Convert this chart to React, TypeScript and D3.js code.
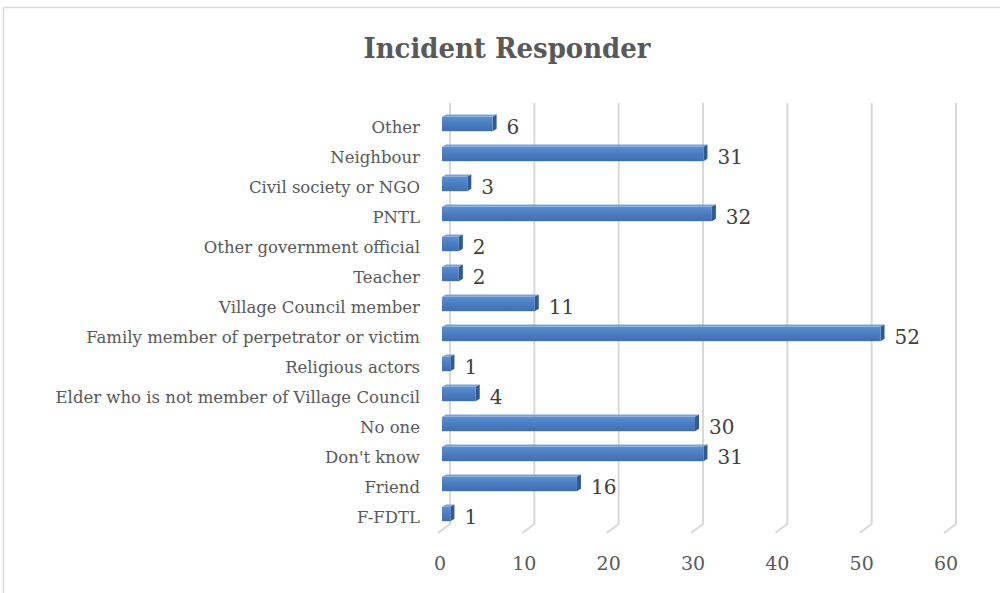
import React from "react";
import * as d3 from "d3";

const categories = [
  "Other",
  "Neighbour",
  "Civil society or NGO",
  "PNTL",
  "Other government official",
  "Teacher",
  "Village Council member",
  "Family member of perpetrator or victim",
  "Religious actors",
  "Elder who is not member of Village Council",
  "No one",
  "Don't know",
  "Friend",
  "F-FDTL",
];
const values = [6, 31, 3, 32, 2, 2, 11, 52, 1, 4, 30, 31, 16, 1];
const ticks = [0, 10, 20, 30, 40, 50, 60];

const W = 1000;
const H = 593;

export default function App() {
  const x = d3.scaleLinear().domain([0, 60]).range([440, 946]);
  const y = d3.scaleBand().domain(categories).range([109, 529]).paddingInner(0.52).paddingOuter(0.26);
  const backDx = 10;
  const backDy = -9;
  const floorY = 533;
  const topY = 103;
  const barDx = 2;
  const depth = 4;
  const font = "'DejaVu Serif', serif";

  return (
    <svg width={W} height={H} style={{ position: "absolute", left: 0, top: 0 }} xmlns="http://www.w3.org/2000/svg">
      <defs>
        <linearGradient id="front" x1="0" y1="0" x2="0" y2="1">
          <stop offset="0" stopColor="#5b8fd0" />
          <stop offset="0.5" stopColor="#4a7cc0" />
          <stop offset="1" stopColor="#3f6fb0" />
        </linearGradient>
      </defs>
      <rect x={0} y={0} width={W} height={H} fill="#ffffff" />
      <rect x={3.5} y={7.5} width={W + 10} height={H + 10} fill="none" stroke="#d9d9d9" strokeWidth={1.5} />
      <text x={507} y={58} textAnchor="middle" fontFamily={font} fontWeight="bold" fontSize={27} fill="#595959" textLength={287} lengthAdjust="spacingAndGlyphs">
        Incident Responder
      </text>
      {ticks.map((t) => (
        <polyline
          key={t}
          points={`${x(t) + backDx},${topY} ${x(t) + backDx},${floorY + backDy} ${x(t) - 2},${floorY}`}
          fill="none"
          stroke="#d9d9d9"
          strokeWidth={2}
        />
      ))}
      {ticks.map((t) => (
        <text key={t} x={x(t)} y={570} textAnchor="middle" fontFamily={font} fontSize={19} fill="#595959">
          {t}
        </text>
      ))}
      {categories.map((c, i) => {
        const y0 = y(c)!;
        const h = y.bandwidth();
        const x0 = x(0) + barDx;
        const x1 = x(values[i]) + barDx;
        return (
          <g key={c}>
            <polygon
              points={`${x0},${y0} ${x0 + depth},${y0 - depth * 0.6} ${x1 + depth},${y0 - depth * 0.6} ${x1},${y0}`}
              fill="#7ba3d8"
            />
            <polygon
              points={`${x1},${y0} ${x1 + depth},${y0 - depth * 0.6} ${x1 + depth},${y0 + h - depth * 0.6} ${x1},${y0 + h}`}
              fill="#2f5a94"
            />
            <rect x={x0} y={y0} width={x1 - x0} height={h} fill="url(#front)" />
            <text
              x={420}
              y={y0 + h / 2 + 3}
              dy="0.35em"
              textAnchor="end"
              fontFamily={font}
              fontSize={16.5}
              fill="#595959"
            >
              {c}
            </text>
            <text
              x={x1 + depth + 10}
              y={y0 + h / 2 + 2}
              dy="0.38em"
              fontFamily={font}
              fontSize={20}
              fill="#404040"
            >
              {values[i]}
            </text>
          </g>
        );
      })}
    </svg>
  );
}
